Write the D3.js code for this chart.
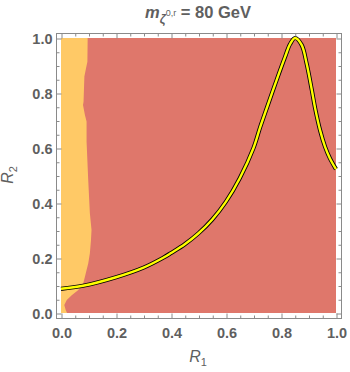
<!DOCTYPE html>
<html>
<head>
<meta charset="utf-8">
<script src="https://cdn.jsdelivr.net/npm/d3@7"></script>
<style>
  html, body { margin: 0; padding: 0; background: #fff; }
  svg { display: block; }
</style>
</head>
<body>
<svg id="chart" width="350" height="372"></svg>
<script>
// ---- data ----
const majorTicks = [0, 0.2, 0.4, 0.6, 0.8, 1.0];
const tickLabels = ["0.0", "0.2", "0.4", "0.6", "0.8", "1.0"];
const minorTicks = [0.05,0.1,0.15,0.25,0.3,0.35,0.45,0.5,0.55,0.65,0.7,0.75,0.85,0.9,0.95];

// boundary of the orange (left) region: R2 values and the R1 boundary at each
const boundaryR2 = [0, 0.011, 0.029, 0.047, 0.065, 0.084, 0.108, 0.132, 0.156, 0.18, 0.217, 0.265, 0.302, 0.363, 0.484, 0.623, 0.696, 0.72, 0.756, 0.768, 0.86, 0.89, 0.914, 1.0];
const boundaryR1 = [0.022, 0.017, 0.012, 0.021, 0.039, 0.063, 0.081, 0.087, 0.093, 0.099, 0.105, 0.109, 0.111, 0.105, 0.099, 0.093, 0.093, 0.087, 0.080, 0.082, 0.085, 0.091, 0.096, 0.097];

// yellow contour curve
const curveR1 = [0, 0.08, 0.2, 0.3, 0.37, 0.4, 0.45, 0.5, 0.55, 0.6, 0.65, 0.7, 0.724, 0.75, 0.784, 0.815, 0.833, 0.851, 0.875, 0.893, 0.912, 0.924, 0.942, 0.96, 0.978, 1.0];
const curveR2 = [0.088, 0.099, 0.13, 0.165, 0.2, 0.218, 0.25, 0.29, 0.34, 0.405, 0.49, 0.60, 0.675, 0.75, 0.847, 0.932, 0.978, 1.0, 0.975, 0.908, 0.811, 0.745, 0.665, 0.605, 0.562, 0.523];

const colors = { orange: "#FFC966", red: "#DF776B", frame: "#8a8a8a", text: "#5f5f5f" };

// ---- layout ----
const svg = d3.select("#chart");
const x = d3.scaleLinear().domain([0, 1]).range([61, 336]);
const y = d3.scaleLinear().domain([0, 1]).range([313, 38]);
const frame = { x0: 56, x1: 341, y0: 33, y1: 318 };

// regions
svg.append("rect")
  .attr("x", x(0)).attr("y", y(1))
  .attr("width", x(1) - x(0)).attr("height", y(0) - y(1))
  .attr("fill", colors.red);

const poly = [[0, 0]].concat(boundaryR2.map((r2, i) => [boundaryR1[i], r2])).concat([[0, 1]]);
svg.append("path")
  .attr("d", d3.line().x(d => x(d[0])).y(d => y(d[1]))(poly) + "Z")
  .attr("fill", colors.orange);

// curve
const cpts = curveR1.map((r1, i) => [r1, curveR2[i]]);
const cline = d3.line().x(d => x(d[0])).y(d => y(d[1])).curve(d3.curveCatmullRom.alpha(0.5));
svg.append("path").attr("d", cline(cpts)).attr("fill", "none")
  .attr("stroke", "#000").attr("stroke-width", 4.2).attr("stroke-linecap", "butt");
svg.append("path").attr("d", cline(cpts)).attr("fill", "none")
  .attr("stroke", "#ffff00").attr("stroke-width", 2.4).attr("stroke-linecap", "butt");

// frame
svg.append("rect")
  .attr("x", frame.x0 + 0.5).attr("y", frame.y0 + 0.5)
  .attr("width", frame.x1 - frame.x0).attr("height", frame.y1 - frame.y0)
  .attr("fill", "none").attr("stroke", colors.frame).attr("stroke-width", 1);

const fontFam = "'Liberation Sans', Arial, sans-serif";
function styleAxis(g) {
  g.select(".domain").remove();
  g.selectAll(".tick line").attr("stroke", colors.frame);
  g.selectAll(".tick text")
    .attr("fill", colors.text)
    .attr("font-family", fontFam)
    .attr("font-weight", "bold")
    .attr("font-size", 14.5);
}

// bottom
svg.append("g").attr("transform", `translate(0.5,${frame.y1 + 0.5})`)
  .call(d3.axisBottom(x).tickValues(majorTicks).tickSize(-5).tickPadding(9)
    .tickFormat((d, i) => tickLabels[i]))
  .call(styleAxis);
svg.append("g").attr("transform", `translate(0.5,${frame.y1 + 0.5})`)
  .call(d3.axisBottom(x).tickValues(minorTicks).tickSize(-3).tickFormat(""))
  .call(styleAxis);
// top
svg.append("g").attr("transform", `translate(0.5,${frame.y0 + 0.5})`)
  .call(d3.axisTop(x).tickValues(majorTicks).tickSize(-5).tickFormat(""))
  .call(styleAxis);
svg.append("g").attr("transform", `translate(0.5,${frame.y0 + 0.5})`)
  .call(d3.axisTop(x).tickValues(minorTicks).tickSize(-3).tickFormat(""))
  .call(styleAxis);
// left
svg.append("g").attr("transform", `translate(${frame.x0 + 0.5},0.5)`)
  .call(d3.axisLeft(y).tickValues(majorTicks).tickSize(-5).tickPadding(4)
    .tickFormat((d, i) => tickLabels[i]))
  .call(styleAxis);
svg.append("g").attr("transform", `translate(${frame.x0 + 0.5},0.5)`)
  .call(d3.axisLeft(y).tickValues(minorTicks).tickSize(-3).tickFormat(""))
  .call(styleAxis);
// right
svg.append("g").attr("transform", `translate(${frame.x1 + 0.5},0.5)`)
  .call(d3.axisRight(y).tickValues(majorTicks).tickSize(-5).tickFormat(""))
  .call(styleAxis);
svg.append("g").attr("transform", `translate(${frame.x1 + 0.5},0.5)`)
  .call(d3.axisRight(y).tickValues(minorTicks).tickSize(-3).tickFormat(""))
  .call(styleAxis);

// axis labels
const xl = svg.append("text").attr("x", 198).attr("y", 362)
  .attr("text-anchor", "middle").attr("fill", colors.text)
  .attr("font-family", fontFam).attr("font-size", 16);
xl.append("tspan").attr("font-style", "italic").text("R");
xl.append("tspan").attr("font-size", 11).attr("dy", 4).text("1");

const yl = svg.append("text").attr("transform", "translate(13,175) rotate(-90)")
  .attr("text-anchor", "middle").attr("fill", colors.text)
  .attr("font-family", fontFam).attr("font-size", 16);
yl.append("tspan").attr("font-style", "italic").text("R");
yl.append("tspan").attr("font-size", 11).attr("dy", 4).text("2");

// title
const t = svg.append("text").attr("x", 198).attr("y", 18)
  .attr("text-anchor", "middle").attr("fill", colors.text)
  .attr("font-family", fontFam).attr("font-weight", "bold").attr("font-size", 16.5);
t.append("tspan").attr("font-style", "italic").text("m");
t.append("tspan").attr("font-style", "italic").attr("font-size", 12).attr("dy", 5).text("ζ");
t.append("tspan").attr("font-size", 9).attr("font-weight", "normal").attr("dy", -7).text("0,r");
t.append("tspan").attr("dy", 2).text(" = 80 GeV");
</script>
</body>
</html>
